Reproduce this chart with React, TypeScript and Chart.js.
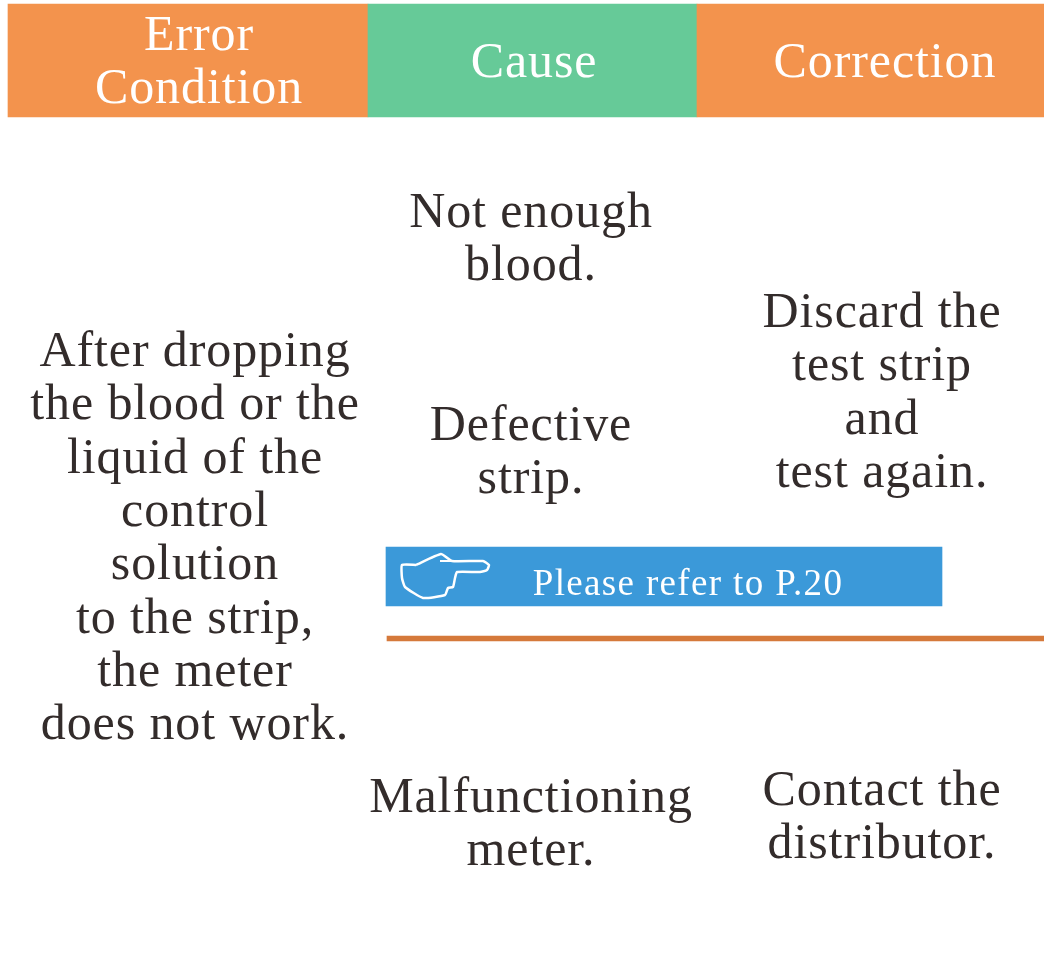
import React, { useEffect, useRef } from "react";
import { Chart, registerables } from "chart.js";

Chart.register(...registerables);

const WIDTH = 1044;
const HEIGHT = 973;

// Band extents, in the chart's own units
const headerSpans: [number, number][] = [[8, 368], [368, 697], [697, 1044]];
const headerColors = ["#F3934D", "#66CA98", "#F3934D"];
const noticeSpan: [number, number] = [386, 942];
const ruleSpan: [number, number] = [387, 1044];

// Pointing-hand pictogram outline
const handX = [416, 441, 452, 483, 489, 487, 480, 457, 455, 453, 448, 445, 423, 405, 402, 402, 416];
const handY = [565, 554, 561, 561, 565, 570, 572, 572, 578, 587, 588, 595, 598, 587, 578, 565, 565];
const fingerX = [440, 452];
const fingerY = [561, 561];

// Text
const errorHeader = ["Error", "Condition"];
const causeHeader = ["Cause"];
const correctionHeader = ["Correction"];
const errorText = ["After dropping", "the blood or the", "liquid of the", "control", "solution", "to the strip,", "the meter", "does not work."];
const causeOne = ["Not enough", "blood."];
const causeTwo = ["Defective", "strip."];
const causeThree = ["Malfunctioning", "meter."];
const correctionOne = ["Discard the", "test strip", "and", "test again."];
const correctionTwo = ["Contact the", "distributor."];
const noticeText = ["Please refer to P.20"];

const INK = "#332C2B";
const WHITE = "#FFFFFF";
const LEAD = 53.3;

type Block = { lines: string[]; x: number; y: number; color: string; size: number; spacing: number };

const blocks: Block[] = [
  { lines: errorHeader, x: 199, y: 50, color: WHITE, size: 50, spacing: 0.9 },
  { lines: causeHeader, x: 534, y: 77, color: WHITE, size: 50, spacing: 0.9 },
  { lines: correctionHeader, x: 885, y: 77, color: WHITE, size: 50, spacing: 0.9 },
  { lines: errorText, x: 195, y: 366, color: INK, size: 50, spacing: 0.9 },
  { lines: causeOne, x: 531, y: 227, color: INK, size: 50, spacing: 0.9 },
  { lines: causeTwo, x: 531, y: 440, color: INK, size: 50, spacing: 0.9 },
  { lines: causeThree, x: 531, y: 812, color: INK, size: 50, spacing: 0.9 },
  { lines: correctionOne, x: 882, y: 327, color: INK, size: 50, spacing: 0.9 },
  { lines: correctionTwo, x: 882, y: 805, color: INK, size: 50, spacing: 0.9 },
  { lines: noticeText, x: 688, y: 595, color: WHITE, size: 37, spacing: 1.35 },
];

const textPlugin = {
  id: "tableText",
  afterDatasetsDraw(chart: any) {
    const { ctx, scales } = chart;
    ctx.save();
    ctx.textAlign = "center";
    ctx.textBaseline = "alphabetic";
    for (const b of blocks) {
      ctx.font = `${b.size}px "Liberation Serif"`;
      ctx.letterSpacing = `${b.spacing}px`;
      ctx.fillStyle = b.color;
      b.lines.forEach((line, i) => {
        ctx.fillText(line, scales.x.getPixelForValue(b.x), scales.y.getPixelForValue(b.y + i * LEAD));
      });
    }
    ctx.restore();
  },
};

export default function App() {
  const ref = useRef<HTMLCanvasElement>(null);

  useEffect(() => {
    document.body.style.margin = "0";
    const chart = new Chart(ref.current!, {
      type: "bar",
      data: {
        datasets: [
          {
            type: "bar",
            data: headerSpans.map((s) => ({ x: s, y: 60.5 })),
            backgroundColor: headerColors,
            barThickness: 113,
            grouped: false,
            borderWidth: 0,
          },
          {
            type: "bar",
            data: [{ x: noticeSpan, y: 576.5 }],
            backgroundColor: "#3B99D9",
            barThickness: 59,
            grouped: false,
            borderWidth: 0,
          },
          {
            type: "bar",
            data: [{ x: ruleSpan, y: 638.5 }],
            backgroundColor: "#D5793B",
            barThickness: 5,
            grouped: false,
            borderWidth: 0,
          },
          {
            type: "scatter",
            showLine: true,
            data: handX.map((x, i) => ({ x, y: handY[i] })),
            borderColor: WHITE,
            borderWidth: 2.5,
            pointRadius: 0,
            tension: 0.15,
            order: -1,
          },
          {
            type: "scatter",
            showLine: true,
            data: fingerX.map((x, i) => ({ x, y: fingerY[i] })),
            borderColor: WHITE,
            borderWidth: 2,
            pointRadius: 0,
            order: -1,
          },
        ] as any,
      },
      options: {
        indexAxis: "y",
        animation: false,
        responsive: false,
        devicePixelRatio: 1,
        layout: { padding: 0 },
        plugins: { legend: { display: false }, tooltip: { enabled: false }, title: { display: false } },
        scales: {
          x: { type: "linear", min: 0, max: WIDTH, display: false, offset: false },
          y: { type: "linear", min: 0, max: HEIGHT, reverse: true, display: false, offset: false },
        },
      } as any,
      plugins: [textPlugin],
    });
    return () => chart.destroy();
  }, []);

  return <canvas ref={ref} width={WIDTH} height={HEIGHT} style={{ display: "block", width: WIDTH, height: HEIGHT }} />;
}
